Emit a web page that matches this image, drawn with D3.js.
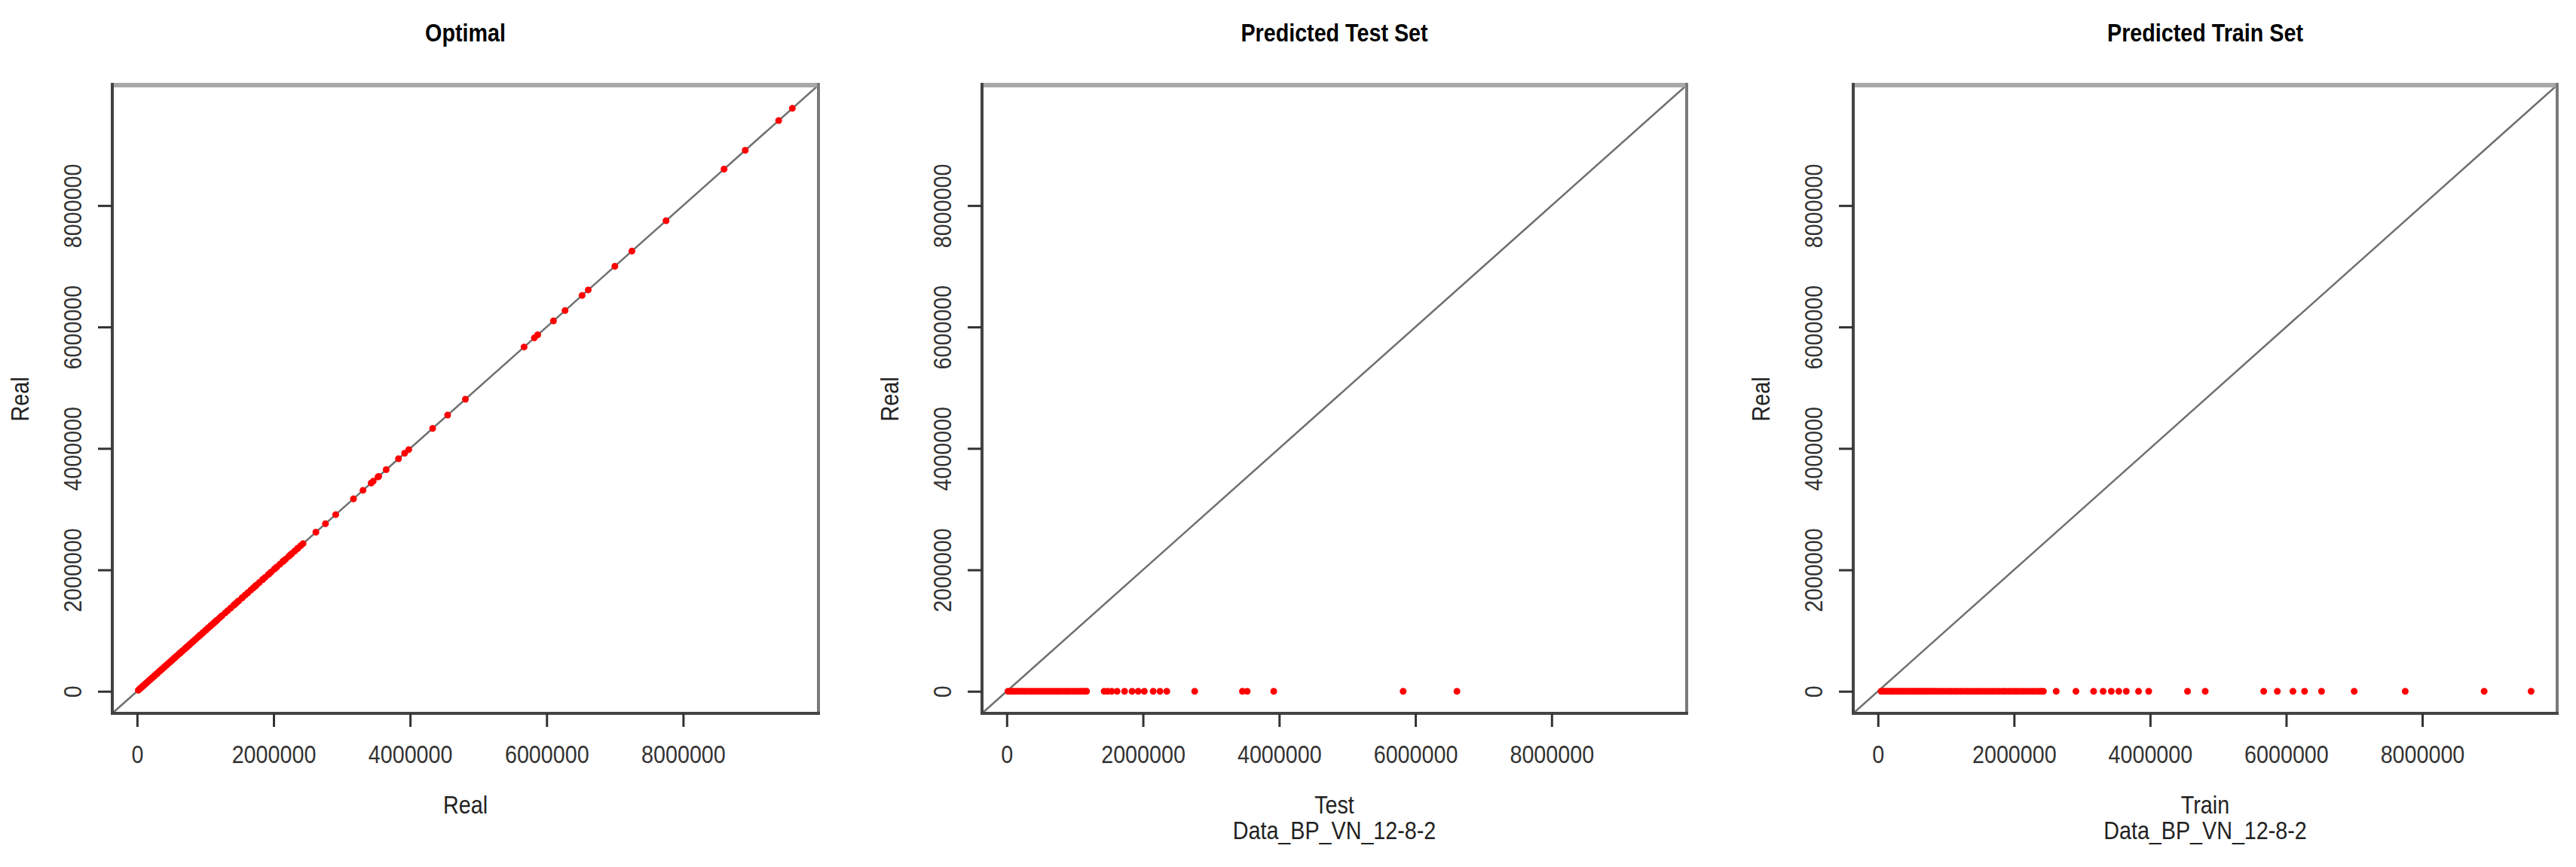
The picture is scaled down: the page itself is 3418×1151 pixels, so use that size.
<!DOCTYPE html>
<html>
<head>
<meta charset="utf-8">
<script src="https://cdn.jsdelivr.net/npm/d3@7"></script>
<style>
  body { margin: 0; background: #fff; }
  text { font-family: "Liberation Sans", Arial, sans-serif; }
</style>
</head>
<body>
<div id="chart"></div>
<script>
var width = 3418;
var height = 1151;

// values
var testReal = [18000, 52000, 87000, 118000, 149000, 186000, 224000, 257000, 291000, 333000,
  368000, 402000, 441000, 478000, 512000, 549000, 590000, 626000, 661000, 703000, 739000,
  772000, 815000, 852000, 888000, 921000, 963000, 1004000, 1041000, 1078000, 1112000,
  1146000, 1172000, 1430000, 1480000, 1540000, 1620000, 1730000, 1840000, 1930000,
  2020000, 2150000, 2250000, 2350000, 2760000, 3460000, 3530000, 3920000, 5820000, 6610000];

var trainReal = [46000, 78000, 104000, 131000, 163000, 192000, 218000, 247000, 279000, 306000,
  338000, 364000, 397000, 425000, 452000, 488000, 517000, 546000, 574000, 609000, 637000,
  668000, 701000, 729000, 763000, 792000, 826000, 858000, 897000, 934000, 968000, 1011000,
  1046000, 1083000, 1127000, 1164000, 1208000, 1243000, 1289000, 1326000, 1371000, 1412000,
  1455000, 1493000, 1538000, 1581000, 1624000, 1668000, 1703000, 1749000, 1792000, 1838000,
  1874000, 1921000, 1963000, 2008000, 2047000, 2093000, 2136000, 2178000, 2224000, 2269000,
  2311000, 2357000, 2398000, 2432000, 2620000, 2910000, 3170000, 3310000, 3430000, 3540000,
  3650000, 3830000, 3980000, 4550000, 4810000, 5670000, 5870000, 6100000, 6270000, 6520000,
  7000000, 7750000, 8910000, 9600000];

// a few more on the diagonal of the first panel
var optimalExtra = [4330000, 7250000, 8600000, 9400000];

// predictions are all about zero
var testPred = testReal.map(function(d) { return 0; });
var trainPred = trainReal.map(function(d) { return 0; });

var tickValues = [0, 2000000, 4000000, 6000000, 8000000];
var axisLimits = [-363000, 9983000];

var subTitle = "Data_BP_VN_12-8-2";

var allReal = testReal.concat(trainReal, optimalExtra);

var panels = [
  {title: "Optimal", xlab: "Real", sub: null, xs: allReal, ys: allReal, left: 149, right: 1086},
  {title: "Predicted Test Set", xlab: "Test", sub: subTitle, xs: testReal, ys: testPred, left: 1303, right: 2238},
  {title: "Predicted Train Set", xlab: "Train", sub: subTitle, xs: trainReal, ys: trainPred, left: 2459, right: 3393}
];

var plotTop = 113, plotBottom = 947;
var squeeze = 0.87;

var svg = d3.select("#chart")
    .append("svg")
    .attr("width", width)
    .attr("height", height);

function narrowText(g, x, y, str, size, weight, rot) {
  return g.append("text")
    .attr("transform", "translate(" + x + "," + y + ") rotate(" + (rot || 0) + ") scale(" + squeeze + ",1)")
    .attr("text-anchor", "middle")
    .style("font-size", size + "px")
    .style("font-weight", weight || "normal")
    .attr("fill", "#222")
    .text(str);
}

panels.forEach(function(p) {
  var g = svg.append("g");

  var x = d3.scaleLinear().domain(axisLimits).range([p.left, p.right]);
  var y = d3.scaleLinear().domain(axisLimits).range([plotBottom, plotTop]);

  // 1:1 line
  g.append("line")
    .attr("x1", x(axisLimits[0])).attr("y1", y(axisLimits[0]))
    .attr("x2", x(axisLimits[1])).attr("y2", y(axisLimits[1]))
    .attr("stroke", "#707070")
    .attr("stroke-width", 2.5);

  // points
  var pts = p.xs.map(function(d, i) { return [d, p.ys[i]]; });
  g.selectAll("circle")
    .data(pts)
    .enter().append("circle")
      .attr("cx", function(d) { return x(d[0]); })
      .attr("cy", function(d) { return y(d[1]); })
      .attr("r", 4.5)
      .attr("fill", "#ff0000");

  // box
  g.append("line").attr("x1", p.left).attr("x2", p.right).attr("y1", plotTop).attr("y2", plotTop)
    .attr("stroke", "#a8a8a8").attr("stroke-width", 6);
  g.append("line").attr("x1", p.right).attr("x2", p.right).attr("y1", plotTop - 3).attr("y2", plotBottom)
    .attr("stroke", "#7a7a7a").attr("stroke-width", 4);
  g.append("line").attr("x1", p.left).attr("x2", p.left).attr("y1", plotTop - 3).attr("y2", plotBottom + 2)
    .attr("stroke", "#444").attr("stroke-width", 4);
  g.append("line").attr("x1", p.left - 2).attr("x2", p.right + 2).attr("y1", plotBottom).attr("y2", plotBottom)
    .attr("stroke", "#444").attr("stroke-width", 4);

  // x axis
  var gx = g.append("g")
    .attr("transform", "translate(0," + plotBottom + ")")
    .call(d3.axisBottom(x).tickValues(tickValues).tickFormat(d3.format("d")).tickSize(18));
  gx.select(".domain").remove();
  gx.selectAll(".tick line").attr("stroke", "#333").attr("stroke-width", 3);
  gx.selectAll(".tick text")
    .attr("y", 0).attr("dy", 0)
    .attr("transform", "translate(0,66) scale(" + squeeze + ",1)")
    .attr("fill", "#333")
    .style("font-size", "33px")
    .style("font-family", "'Liberation Sans', Arial, sans-serif");

  // y axis
  var gy = g.append("g")
    .attr("transform", "translate(" + p.left + ",0)")
    .call(d3.axisLeft(y).tickValues(tickValues).tickFormat(d3.format("d")).tickSize(19));
  gy.select(".domain").remove();
  gy.selectAll(".tick line").attr("stroke", "#333").attr("stroke-width", 3);
  gy.selectAll(".tick text")
    .attr("x", 0).attr("dy", 0)
    .attr("text-anchor", "middle")
    .attr("transform", "translate(-41,0) rotate(-90) scale(" + squeeze + ",1)")
    .attr("fill", "#333")
    .style("font-size", "33px")
    .style("font-family", "'Liberation Sans', Arial, sans-serif");

  var cx = (p.left + p.right) / 2;
  var cy = (plotTop + plotBottom) / 2;

  narrowText(g, cx, 55, p.title, 33, "bold").attr("fill", "#000");
  narrowText(g, cx, 1080, p.xlab, 33);
  if (p.sub) narrowText(g, cx, 1114, p.sub, 33);
  narrowText(g, p.left - 111, cy, "Real", 33, "normal", -90);
});
</script>
</body>
</html>
